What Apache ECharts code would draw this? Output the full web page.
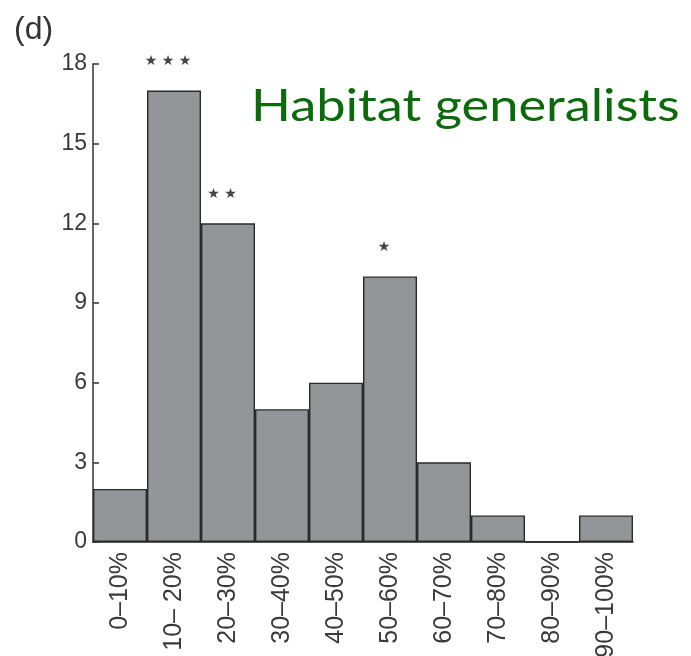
<!DOCTYPE html>
<html>
<head>
<meta charset="utf-8">
<script src="https://cdn.jsdelivr.net/npm/echarts@6/dist/echarts.min.js"></script>
<style>
  html, body { margin: 0; padding: 0; background: #fff; }
  #chart { width: 691px; height: 656px; }
</style>
</head>
<body>
<div id="chart"></div>
<script>
// Number of species per occupancy class
const categories = ['0–10%', '10– 20%', '20–30%', '30–40%', '40–50%', '50–60%', '60–70%', '70–80%', '80–90%', '90–100%'];
const counts = [2, 17, 12, 5, 6, 10, 3, 1, 0, 1];
const significance = ['', '★ ★ ★', '★ ★', '', '', '★', '', '', '', ''];
const yTicks = [0, 3, 6, 9, 12, 15, 18];

const chart = echarts.init(document.getElementById('chart'), null, { renderer: 'canvas' });

const sans = 'Liberation Sans, Arial, Helvetica, sans-serif';

chart.setOption({
  backgroundColor: '#ffffff',
  animation: false,
  grid: { left: 93, right: 58, top: 64, bottom: 114, containLabel: false, outerBoundsMode: 'none' },
  graphic: [
    {
      type: 'text', left: 14, top: 14,
      style: { text: '(d)', font: '32px ' + sans, fill: '#333' }
    },
    {
      type: 'text', x: 251, y: 85, scaleX: 1.19, scaleY: 1,
      style: { text: 'Habitat generalists', font: '44px Lato, sans-serif', fill: '#0b6b0b' }
    }
  ],
  xAxis: {
    type: 'category',
    data: categories,
    boundaryGap: true,
    axisLine: { show: true, lineStyle: { color: '#222', width: 1.5 } },
    axisTick: { show: false },
    axisLabel: {
      rotate: 90, margin: 10, interval: 0,
      padding: [0, 0, 10, 0],
      fontFamily: sans, fontSize: 25, color: '#3a3a3a'
    }
  },
  yAxis: {
    type: 'value',
    min: yTicks[0], max: yTicks[yTicks.length - 1], interval: 3,
    axisLine: { show: true, lineStyle: { color: '#333', width: 1.5 } },
    axisTick: { show: true, inside: true, length: 6, lineStyle: { color: '#333', width: 1.5 } },
    splitLine: { show: false },
    axisLabel: {
      margin: 6,
      fontFamily: sans, fontSize: 23, color: '#3a3a3a'
    }
  },
  series: [{
    type: 'bar',
    data: counts,
    barCategoryGap: '0%',
    itemStyle: { color: '#939598', borderColor: '#2a2a2a', borderWidth: 1.4 },
    label: {
      show: true, position: 'top', distance: 22, offset: [-6, 0],
      formatter: p => significance[p.dataIndex],
      fontFamily: 'DejaVu Sans, sans-serif', fontSize: 14, color: '#444'
    }
  }]
});
</script>
</body>
</html>
